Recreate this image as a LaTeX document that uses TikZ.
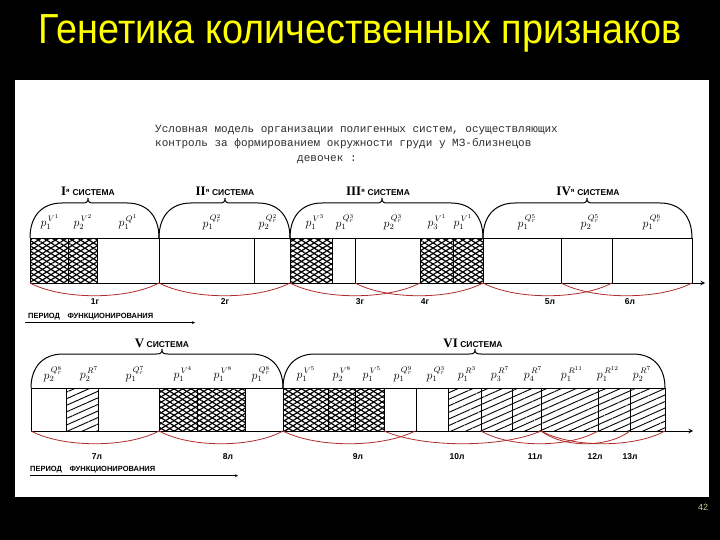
\documentclass[tikz,border=0pt]{standalone}
\usepackage{fontspec}
\setmainfont{Liberation Sans}
\setmonofont{Liberation Mono}
\newfontfamily\numfont{Liberation Serif}
\usetikzlibrary{patterns.meta}

\definecolor{slideyellow}{RGB}{255,255,0}
\definecolor{arcred}{RGB}{175,45,45}
\definecolor{typegray}{RGB}{45,45,45}
\definecolor{pagegray}{RGB}{205,200,150}

\begin{document}
\begin{tikzpicture}[x=1pt,y=-1pt,>=stealth,
  edge/.style={line width=1pt},
  xhatch/.style={pattern={Lines[angle=32,distance=4.5pt,line width=1.2pt]}},
  xhatchb/.style={pattern={Lines[angle=-32,distance=4.5pt,line width=1.2pt]}},
  dhatch/.style={pattern={Lines[angle=24,distance=6pt,line width=.9pt]}},
  lab/.style={font=\fontsize{12}{12}\selectfont,inner sep=0pt},
  sys/.style={font=\fontsize{8.5}{8.5}\selectfont\bfseries,inner sep=0pt},
  age/.style={font=\fontsize{8.5}{8.5}\selectfont\bfseries,inner sep=0pt},
  period/.style={font=\fontsize{7.5}{7.5}\selectfont\bfseries,anchor=base west,inner sep=0pt},
  link/.style={arcred,line width=.8pt}]

  % slide
  \fill[black] (0,0) rectangle (720,540);
  \fill[white] (15,80) rectangle (709,497);
  \node[font=\fontsize{42}{42}\selectfont,text=slideyellow,anchor=base] (title) at (360,44)
    {\scalebox{0.9}[1]{Генетика количественных признаков}};
  \node[font=\fontsize{9}{9}\selectfont,text=pagegray] (pnum) at (703,507) {42};

  % heading of the scan
  \node[anchor=base west,font=\ttfamily\fontsize{11}{11}\selectfont,text=typegray,inner sep=0pt] (head1) at (155,133)
    {Условная модель организации полигенных систем, осуществляющих};
  \node[anchor=base west,font=\ttfamily\fontsize{11}{11}\selectfont,text=typegray,inner sep=0pt] (head2) at (155,147)
    {контроль за формированием окружности груди у МЗ-близнецов};
  \node[anchor=base west,font=\ttfamily\fontsize{11}{11}\selectfont,text=typegray,inner sep=0pt] (head3) at (297,162)
    {девочек :};

  % first row
  \foreach \a/\b in {30/68,68/97,290/332,420/453,453/483}{
    \fill[xhatch] (\a,238) rectangle (\b,283);
    \fill[xhatchb] (\a,238) rectangle (\b,283);
  }
  \draw[edge] (30,238) -- (692,238);
  \draw[edge,->] (30,283) -- (705,283);
  \foreach \x in {30,68,97,159,254,290,332,355,420,453,483,561,612,692}
    \draw[edge] (\x,238) -- (\x,283);
  \foreach \a/\b/\m in {30/159/88,159/290/225,290/483/382,483/692/587}
    \draw[edge] (\a,238) .. controls (\a,216) and (\a+12,203) .. (\a+32,203) -- (\m-6,203)
      .. controls (\m-1,203) and (\m,202) .. (\m,198) .. controls (\m,202) and (\m+1,203) .. (\m+6,203)
      -- (\b-32,203) .. controls (\b-12,203) and (\b,216) .. (\b,238);
  \foreach \a/\b in {30/159,159/290,290/420,355/483,483/612,561/692}
    \draw[link] (\a,283) .. controls (\a+0.25*\b-0.25*\a,300) and (\b-0.25*\b+0.25*\a,300) .. (\b,283);

  \node[sys] (s1) at (88,191) {{\numfont\fontsize{13}{13}\selectfont I}\textsuperscript{я} СИСТЕМА};
  \node[sys] (s2) at (225,191) {{\numfont\fontsize{13}{13}\selectfont II}\textsuperscript{я} СИСТЕМА};
  \node[sys] (s3) at (378,191) {{\numfont\fontsize{13}{13}\selectfont III}\textsuperscript{я} СИСТЕМА};
  \node[sys] (s4) at (588,191) {{\numfont\fontsize{13}{13}\selectfont IV}\textsuperscript{я} СИСТЕМА};

  \foreach \x/\s in {50/{p_1^{\,V^1}},83/{p_2^{\,V^2}},128/{p_1^{\,Q^1}},212/{p_1^{\,Q^2_r}},268/{p_2^{\,Q^2_r}},
      315/{p_1^{\,V^3}},345/{p_1^{\,Q^3_r}},393/{p_2^{\,Q^3_r}},437/{p_3^{\,V^1}},463/{p_1^{\,V^1}},
      527/{p_1^{\,Q^5_r}},590/{p_2^{\,Q^5_r}},652/{p_1^{\,Q^6_r}}}
    \node[lab] (r1-\x) at (\x,222) {$\s$};

  \foreach \x/\s in {95/1г,225/2г,360/3г,425/4г,550/5л,630/6л}
    \node[age] (t1-\x) at (\x,302) {\s};

  \node[period] (per1) at (28,318) {ПЕРИОД\quad ФУНКЦИОНИРОВАНИЯ};
  \coordinate (pe1) at (195,0);
  \draw[->] ([xshift=-3pt,yshift=-3pt]per1.south west) -- ([yshift=-3pt]per1.south west -| pe1);

  % second row
  \foreach \a/\b in {159/197,197/245,283/328,328/355,355/384}{
    \fill[xhatch] (\a,388) rectangle (\b,431);
    \fill[xhatchb] (\a,388) rectangle (\b,431);
  }
  \foreach \a/\b in {66/98,448/481,481/512,512/541,541/598,598/630,630/665}
    \fill[dhatch] (\a,388) rectangle (\b,431);
  \draw[edge] (31,388) -- (665,388);
  \draw[edge,->] (31,431) -- (693,431);
  \foreach \x in {31,66,98,159,197,245,283,328,355,384,416,448,481,512,541,598,630,665}
    \draw[edge] (\x,388) -- (\x,431);
  \foreach \a/\b/\m in {31/283/162,283/665/475}
    \draw[edge] (\a,388) .. controls (\a,367) and (\a+12,354) .. (\a+32,354) -- (\m-6,354)
      .. controls (\m-1,354) and (\m,353) .. (\m,349) .. controls (\m,353) and (\m+1,354) .. (\m+6,354)
      -- (\b-32,354) .. controls (\b-12,354) and (\b,367) .. (\b,388);
  \foreach \a/\b in {31/159,159/283,283/415,384/541,481/598,541/630,541/665}
    \draw[link] (\a,431) .. controls (\a+0.25*\b-0.25*\a,448) and (\b-0.25*\b+0.25*\a,448) .. (\b,431);

  \node[sys] (s5) at (162,343) {{\numfont\fontsize{13}{13}\selectfont V} СИСТЕМА};
  \node[sys] (s6) at (473,343) {{\numfont\fontsize{13}{13}\selectfont VI} СИСТЕМА};

  \foreach \x/\s in {53/{p_2^{\,Q^8_r}},89/{p_2^{\,R^7}},135/{p_1^{\,Q^7_r}},183/{p_1^{\,V^4}},223/{p_1^{\,V^8}},
      261/{p_1^{\,Q^8_r}},306/{p_1^{\,V^5}},342/{p_2^{\,V^8}},372/{p_1^{\,V^5}},403/{p_1^{\,Q^9_r}},
      436/{p_1^{\,Q^3_r}},467/{p_1^{\,R^3}},500/{p_3^{\,R^7}},533/{p_4^{\,R^7}},572/{p_1^{\,R^{11}}},
      608/{p_1^{\,R^{12}}},642/{p_2^{\,R^7}}}
    \node[lab] (r2-\x) at (\x,374) {$\s$};

  \foreach \x/\s in {97/7л,228/8л,358/9л,457/10л,535/11л,595/12л,630/13л}
    \node[age] (t2-\x) at (\x,457) {\s};

  \node[period] (per2) at (30,471) {ПЕРИОД\quad ФУНКЦИОНИРОВАНИЯ};
  \coordinate (pe2) at (238,0);
  \draw[->] ([yshift=-3pt]per2.south west) -- ([yshift=-3pt]per2.south west -| pe2);
\end{tikzpicture}
\end{document}
